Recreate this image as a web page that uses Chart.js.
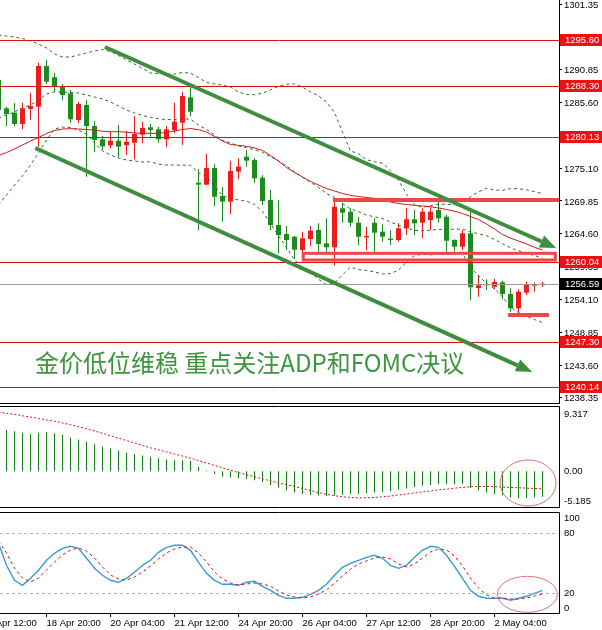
<!DOCTYPE html>
<html>
<head>
<meta charset="utf-8">
<script src="https://cdn.jsdelivr.net/npm/chart.js@4.4.1/dist/chart.umd.min.js"></script>
<style>
html,body{margin:0;padding:0;background:#fff;}
#wrap{position:relative;width:602px;height:630px;overflow:hidden;background:#fff;}
canvas{position:absolute;left:0;}
</style>
</head>
<body>
<div id="wrap">
<canvas id="cMain" width="602" height="404" style="top:0px"></canvas>
<canvas id="cMacd" width="602" height="104" style="top:404px"></canvas>
<canvas id="cStoch" width="602" height="122" style="top:508px"></canvas>
</div>
<script>
// ---- XAUUSD H4 bars (first bar sits one step left of the origin) ----
const firstBar = -1;
const barOpen = [1289.20,1284.67,1283.97,1282.16,1284.56,1284.93,1291.44,1289.63,1288.24,1287.07,1282.80,1285.20,1281.84,1279.71,1278.75,1279.49,1278.75,1279.17,1280.45,1281.63,1281.31,1279.71,1281.20,1282.37,1286.43,1272.77,1272.45,1275.12,1270.64,1269.73,1274.53,1276.93,1276.40,1273.57,1270.00,1266.00,1264.56,1264.13,1262.00,1263.76,1265.20,1263.07,1262.43,1268.67,1268.13,1266.37,1264.03,1266.37,1264.93,1263.81,1263.60,1265.47,1266.91,1266.37,1266.80,1268.40,1267.33,1263.60,1262.53,1264.67,1255.92,1256.56,1256.13,1256.83,1254.96,1252.67,1255.17,1256.30,1256.45];
const barHigh = [1289.68,1284.93,1285.52,1285.57,1287.17,1291.97,1292.40,1290.32,1288.56,1287.60,1285.68,1286.00,1282.64,1280.24,1280.93,1282.00,1281.09,1283.44,1282.53,1282.16,1281.73,1281.84,1285.57,1287.33,1288.40,1274.91,1277.36,1275.76,1272.13,1276.29,1276.67,1278.00,1276.72,1274.00,1271.60,1270.00,1265.84,1264.24,1264.93,1265.84,1266.27,1267.07,1270.16,1269.57,1268.67,1267.33,1265.73,1267.07,1266.11,1265.15,1266.27,1268.67,1268.40,1268.67,1268.93,1270.00,1267.60,1263.71,1265.20,1268.40,1258.00,1257.31,1257.41,1257.09,1255.87,1255.71,1256.93,1256.80,1256.90];
const barLow = [1283.76,1281.84,1281.84,1281.31,1282.80,1278.53,1288.56,1287.33,1286.00,1282.37,1282.32,1273.73,1277.73,1278.00,1278.27,1276.83,1277.20,1276.51,1279.07,1280.13,1279.17,1278.43,1280.67,1278.80,1283.44,1265.20,1272.40,1269.04,1266.53,1267.76,1273.31,1275.33,1272.77,1269.20,1265.20,1261.47,1262.00,1260.56,1261.47,1262.64,1261.73,1261.73,1259.52,1266.37,1265.73,1262.80,1261.92,1261.60,1263.33,1262.80,1263.33,1264.40,1264.40,1263.87,1265.20,1266.37,1261.73,1261.73,1262.00,1254.00,1254.53,1255.60,1255.71,1254.11,1252.13,1251.92,1254.80,1255.33,1256.10];
const barClose = [1284.40,1283.76,1282.16,1284.67,1285.04,1291.44,1288.93,1288.24,1286.80,1282.91,1285.36,1281.84,1279.60,1278.59,1279.49,1278.53,1279.33,1280.56,1281.52,1281.20,1279.71,1281.31,1282.53,1286.64,1284.13,1272.45,1275.12,1270.53,1269.73,1274.64,1275.33,1276.29,1273.47,1269.84,1266.00,1264.40,1263.60,1262.05,1263.87,1265.09,1262.96,1262.43,1268.93,1267.97,1266.37,1264.13,1264.24,1264.77,1264.13,1263.60,1265.47,1266.91,1266.27,1268.13,1268.13,1267.07,1263.49,1262.53,1264.67,1256.03,1256.35,1256.35,1256.88,1254.96,1252.67,1255.33,1256.56,1256.45,1256.59];

// ---- Bollinger bands (dashed) and moving average (red) ----
const bandUpper = [1296.40,1296.24,1296.08,1295.84,1295.44,1294.96,1294.32,1293.36,1292.88,1292.88,1293.20,1293.52,1293.84,1294.08,1293.76,1293.12,1292.40,1291.76,1291.04,1290.33,1290.22,1290.13,1290.15,1290.39,1290.30,1289.61,1288.78,1288.56,1288.39,1288.09,1287.26,1286.90,1286.84,1287.09,1287.63,1288.21,1288.52,1288.59,1288.06,1287.28,1286.69,1285.66,1284.01,1280.87,1277.83,1277.43,1276.44,1276.14,1275.89,1274.72,1273.16,1270.95,1269.21,1268.80,1269.11,1269.32,1269.31,1269.26,1269.26,1270.55,1271.31,1271.87,1271.58,1271.54,1271.82,1271.81,1271.63,1271.33,1271.03];
const bandMiddle = [1283.12,1283.60,1284.08,1284.72,1285.20,1286.00,1286.96,1287.28,1287.28,1287.20,1287.12,1286.80,1286.48,1286.16,1285.68,1285.04,1284.40,1283.92,1283.52,1283.22,1282.98,1282.86,1282.88,1282.98,1282.93,1281.98,1281.29,1280.41,1279.55,1279.14,1278.64,1278.36,1278.06,1277.62,1276.94,1276.24,1275.45,1274.52,1273.64,1272.84,1272.00,1271.06,1270.38,1269.44,1268.55,1268.14,1267.59,1267.31,1267.03,1266.47,1265.98,1265.51,1265.15,1265.07,1265.17,1265.31,1265.30,1265.32,1265.36,1264.91,1264.58,1264.28,1263.67,1263.02,1262.34,1261.90,1261.52,1261.10,1260.72];
const bandLower = [1269.20,1270.80,1272.40,1273.84,1275.60,1277.52,1279.60,1281.36,1281.68,1281.60,1281.20,1280.56,1279.12,1277.84,1277.20,1276.72,1276.40,1276.24,1276.08,1276.11,1275.74,1275.59,1275.61,1275.57,1275.56,1274.35,1273.80,1272.26,1270.71,1270.19,1270.02,1269.82,1269.28,1268.15,1266.25,1264.27,1262.38,1260.45,1259.22,1258.40,1257.31,1256.46,1256.75,1258.01,1259.27,1258.85,1258.74,1258.48,1258.17,1258.22,1258.80,1260.07,1261.09,1261.34,1261.23,1261.30,1261.29,1261.38,1261.46,1259.27,1257.85,1256.69,1255.76,1254.50,1252.86,1251.99,1251.41,1250.87,1250.41];
const maLine = [1277.12,1277.60,1278.16,1278.80,1279.44,1280.00,1280.64,1281.12,1281.36,1281.41,1281.36,1281.28,1281.17,1281.01,1280.93,1280.93,1280.85,1280.72,1280.67,1280.67,1280.67,1280.83,1281.04,1281.28,1281.44,1281.25,1280.88,1280.16,1279.44,1278.88,1278.75,1278.59,1278.35,1277.92,1277.12,1276.24,1275.20,1274.40,1273.68,1272.96,1272.40,1271.84,1271.44,1271.04,1270.75,1270.56,1270.40,1270.27,1270.08,1269.68,1269.44,1269.28,1269.15,1269.04,1268.93,1268.72,1268.48,1268.21,1267.84,1267.36,1266.88,1266.16,1265.36,1264.48,1263.92,1263.44,1262.96,1262.43,1262.00];

// ---- MACD histogram and signal ----
const macdHist = [6.2,6.0,5.8,5.6,5.4,5.6,5.7,5.5,5.3,4.9,4.6,4.3,3.9,3.6,3.3,3.0,2.7,2.5,2.3,2.1,1.9,1.7,1.6,1.6,1.5,0.6,0.1,-0.4,-0.8,-0.9,-1.0,-1.1,-1.3,-1.6,-2.0,-2.4,-2.8,-3.1,-3.3,-3.4,-3.5,-3.6,-3.5,-3.4,-3.3,-3.3,-3.2,-3.1,-3.0,-2.9,-2.7,-2.5,-2.3,-2.1,-2.0,-1.9,-1.9,-1.9,-1.8,-2.4,-2.8,-3.1,-3.3,-3.5,-3.8,-3.9,-3.9,-3.8,-3.7];
const macdSignal = [8.55,8.40,8.25,8.05,7.85,7.65,7.45,7.25,7.00,6.75,6.45,6.15,5.85,5.50,5.15,4.80,4.45,4.10,3.75,3.40,3.10,2.80,2.50,2.20,1.90,1.55,1.20,0.85,0.50,0.15,-0.20,-0.50,-0.80,-1.10,-1.40,-1.70,-1.95,-2.20,-2.50,-2.80,-3.10,-3.35,-3.55,-3.70,-3.80,-3.85,-3.85,-3.80,-3.70,-3.60,-3.45,-3.30,-3.15,-3.00,-2.85,-2.70,-2.60,-2.45,-2.35,-2.25,-2.20,-2.20,-2.25,-2.30,-2.35,-2.40,-2.45,-2.50,-2.55];
const macdMax = 9.317, macdMin = -5.185;

// ---- Stochastic %K and %D ----
const stochK = [69.7,47.7,32.7,27.7,34.7,42.7,52.7,59.7,64.7,66.7,64.7,54.7,44.7,37.7,32.7,30.7,34.7,40.7,47.7,52.7,60.7,65.7,67.7,67.7,62.7,50.7,39.7,32.7,28.7,28.7,27.7,30.7,31.7,26.7,22.7,17.7,14.7,14.7,15.7,18.7,22.7,28.7,37.7,45.7,49.7,52.7,55.7,57.7,54.7,47.7,44.7,47.7,55.7,62.7,66.7,65.7,57.7,46.7,34.7,22.7,16.7,14.7,14.7,14.7,12.7,14.7,16.7,19.7,22.7];
const stochD = [72,60,45,35,31,35,43,51,58,63,65,62,55,46,38,34,33,36,41,47,54,60,64,66,66,60,51,41,34,30,28,29,30,29,27,22,18,16,15,16,19,23,30,37,44,49,52,55,56,54,49,46,49,55,61,64,63,57,47,35,25,18,15,15,14,14,15,17,19];
const stochLevels = [80, 20];

// ---- axis ticks ----
const priceTicks = [1301.35,1296.10,1290.85,1285.60,1280.35,1275.10,1269.85,1264.60,1259.35,1254.10,1248.85,1243.60,1238.35];
const timeTickBars = [-3,5,13,21,29,37,45,53,61];
const timeTickLabels = ['17 Apr 12:00','18 Apr 20:00','20 Apr 04:00','21 Apr 12:00','24 Apr 20:00','26 Apr 04:00','27 Apr 12:00','28 Apr 20:00','2 May 04:00'];

// ---- drawn levels and objects (bar position, price) ----
const levelPrices = [1295.60,1288.30,1280.13,1260.04,1247.30,1240.14];
const lastPrice = 1256.59;
const resistanceBar = [[40.8,1270.00],[69.5,1270.00]];
const zoneBox = [[37.1,1261.47],[68.6,1260.40]];
const supportBar = [[62.7,1251.60],[67.8,1251.60]];
const channelUpper = [[12.3,1294.48],[68.7,1262.32]];
const channelLower = [[3.6,1278.32],[65.7,1242.48]];
const headline = {text:'金价低位维稳 重点关注ADP和FOMC决议', at:[3.56,1243.92]};
const macdRing = {center:[65.2,-1.70], rx:3.5, ry:3.34};
const stochRing = {center:[65.1,18.7], rx:3.75, ry:18};

// ---- styles ----
const FONT = '"Liberation Sans", Arial, sans-serif';
const UP = '#ee1c1c', DOWN = '#1d8b1d';
const AXIS_W = 43;
const X_MIN = -0.8125, X_MAX = 69.0625;

const barPos = barOpen.map((_, i) => i + firstBar);
const barColors = barOpen.map((o, i) => barClose[i] >= o ? UP : DOWN);
const pts = arr => arr.map((v, i) => ({x: barPos[i], y: v}));

const common = {
  responsive: false, animation: false, devicePixelRatio: 1,
  plugins: {legend: {display: false}, tooltip: {enabled: false}},
  events: []
};

function xScale(display) {
  return {type: 'linear', min: X_MIN, max: X_MAX, offset: false, display: display};
}

function crisp(v) { return Math.round(v) + 0.5; }

// price-level lines, tags, zone objects, trend channel and headline
const mainObjects = {
  id: 'mainObjects',
  afterDatasetsDraw(chart) {
    const {ctx, chartArea: a, scales: {x, y}} = chart;
    ctx.save();
    ctx.beginPath(); ctx.rect(a.left, a.top, a.right - a.left, a.bottom - a.top); ctx.clip();
    // thin horizontal levels
    ctx.lineWidth = 1;
    levelPrices.forEach(p => {
      const py = crisp(y.getPixelForValue(p));
      ctx.strokeStyle = '#d81010';
      ctx.beginPath(); ctx.moveTo(a.left, py); ctx.lineTo(a.right, py); ctx.stroke();
    });
    const lp = crisp(y.getPixelForValue(lastPrice));
    ctx.strokeStyle = '#9a9a9a';
    ctx.beginPath(); ctx.moveTo(a.left, lp); ctx.lineTo(a.right, lp); ctx.stroke();
    // thick resistance / support bars
    ctx.strokeStyle = '#f04646';
    ctx.lineWidth = 4;
    [resistanceBar, supportBar].forEach(seg => {
      ctx.beginPath();
      ctx.moveTo(x.getPixelForValue(seg[0][0]), y.getPixelForValue(seg[0][1]));
      ctx.lineTo(x.getPixelForValue(seg[1][0]), y.getPixelForValue(seg[1][1]));
      ctx.stroke();
    });
    // hollow zone box
    ctx.lineWidth = 3;
    const bx0 = x.getPixelForValue(zoneBox[0][0]), by0 = y.getPixelForValue(zoneBox[0][1]);
    const bx1 = x.getPixelForValue(zoneBox[1][0]), by1 = y.getPixelForValue(zoneBox[1][1]);
    ctx.strokeRect(bx0, by0, bx1 - bx0, by1 - by0);
    // trend channel with arrows
    [channelUpper, channelLower].forEach(seg => {
      const x0 = x.getPixelForValue(seg[0][0]), y0 = y.getPixelForValue(seg[0][1]);
      const x1 = x.getPixelForValue(seg[1][0]), y1 = y.getPixelForValue(seg[1][1]);
      const ang = Math.atan2(y1 - y0, x1 - x0);
      const hl = 16, hw = 13;
      const bx = x1 - hl * Math.cos(ang), by = y1 - hl * Math.sin(ang);
      ctx.strokeStyle = '#3e8e3e'; ctx.fillStyle = '#3e8e3e'; ctx.lineWidth = 4;
      ctx.beginPath(); ctx.moveTo(x0, y0); ctx.lineTo(bx, by); ctx.stroke();
      ctx.beginPath(); ctx.moveTo(x1, y1);
      ctx.lineTo(bx + hw / 2 * Math.sin(ang), by - hw / 2 * Math.cos(ang));
      ctx.lineTo(bx - hw / 2 * Math.sin(ang), by + hw / 2 * Math.cos(ang));
      ctx.closePath(); ctx.fill();
    });
    // headline
    ctx.fillStyle = '#3d953d';
    ctx.font = '24px "Noto Sans CJK SC", sans-serif';
    ctx.textBaseline = 'middle';
    ctx.fillText(headline.text, x.getPixelForValue(headline.at[0]), y.getPixelForValue(headline.at[1]));
    ctx.restore();
    // bottom border of the price window
    ctx.save();
    ctx.strokeStyle = '#000'; ctx.lineWidth = 1;
    ctx.beginPath(); ctx.moveTo(0, a.bottom + 0.5); ctx.lineTo(a.right + 1, a.bottom + 0.5); ctx.stroke();
    ctx.restore();
  },
  afterDraw(chart) {
    const {ctx, chartArea: a, scales: {y}} = chart;
    ctx.save();
    ctx.font = '9.5px ' + FONT;
    ctx.textBaseline = 'middle';
    const tag = (p, bg) => {
      const py = Math.round(y.getPixelForValue(p));
      ctx.fillStyle = bg;
      ctx.fillRect(a.right + 1, py - 6, 602 - a.right, 12);
      ctx.fillStyle = '#fff';
      ctx.fillText(p.toFixed(2), a.right + 6, py + 0.5);
    };
    levelPrices.forEach(p => tag(p, '#ee1111'));
    tag(lastPrice, '#000');
    ctx.restore();
  }
};

new Chart(document.getElementById('cMain'), {
  type: 'bar',
  data: {
    datasets: [
      {type: 'bar', data: barPos.map((x, i) => ({x, y: [barLow[i], barHigh[i]]})), backgroundColor: barColors,
       barThickness: 1, grouped: false, inflateAmount: 0, order: 6},
      {type: 'bar', data: barPos.map((x, i) => ({x, y: [barOpen[i], barClose[i]]})), backgroundColor: barColors,
       barThickness: 5, grouped: false, inflateAmount: 0, minBarLength: 1, order: 5},
      {type: 'line', data: pts(bandUpper), borderColor: '#2e6e2e', borderWidth: 1, borderDash: [3, 3], pointRadius: 0, order: 2},
      {type: 'line', data: pts(bandMiddle), borderColor: '#2e6e2e', borderWidth: 1, borderDash: [3, 3], pointRadius: 0, order: 2},
      {type: 'line', data: pts(bandLower), borderColor: '#2e6e2e', borderWidth: 1, borderDash: [3, 3], pointRadius: 0, order: 2},
      {type: 'line', data: pts(maLine), borderColor: '#d01818', borderWidth: 1, pointRadius: 0, order: 1}
    ]
  },
  options: Object.assign({}, common, {
    layout: {padding: {top: 0, bottom: 1, left: 0, right: 0}},
    scales: {
      x: xScale(false),
      y: {
        position: 'right', min: 1237.52, max: 1302.00,
        afterFit: s => { s.width = AXIS_W; s.paddingTop = 0; s.paddingBottom = 0; },
        afterBuildTicks: s => { s.ticks = priceTicks.map(v => ({value: v})); },
        ticks: {autoSkip: false, color: '#000', font: {family: FONT, size: 9.5}, padding: 2, labelOffset: 1,
                callback: v => Number(v).toFixed(2)},
        grid: {drawOnChartArea: false, drawTicks: true, tickLength: 3, color: '#000'},
        border: {display: true, color: '#000', width: 1}
      }
    }
  }),
  plugins: [mainObjects]
});

// sub-window frame, right-side value labels and oval marks
function subWindow(labels, ring, levels) {
  return {
    id: 'subWindow',
    beforeDatasetsDraw(chart) {
      const {ctx, chartArea: a, scales: {y}} = chart;
      if (!levels) return;
      ctx.save();
      ctx.strokeStyle = '#b4b4b4'; ctx.lineWidth = 1; ctx.setLineDash([3, 3]);
      levels.forEach(v => {
        const py = crisp(y.getPixelForValue(v));
        ctx.beginPath(); ctx.moveTo(a.left, py); ctx.lineTo(a.right, py); ctx.stroke();
      });
      ctx.restore();
    },
    afterDraw(chart) {
      const {ctx, chartArea: a, scales: {x, y}} = chart;
      ctx.save();
      ctx.strokeStyle = '#000'; ctx.lineWidth = 1;
      ctx.beginPath();
      ctx.moveTo(0, a.top - 0.5); ctx.lineTo(a.right + 0.5, a.top - 0.5);
      ctx.lineTo(a.right + 0.5, a.bottom + 0.5); ctx.lineTo(0, a.bottom + 0.5);
      ctx.stroke();
      ctx.fillStyle = '#000';
      ctx.font = '9.5px ' + FONT;
      ctx.textBaseline = 'middle';
      labels.forEach(l => ctx.fillText(l.text, a.right + 5, y.getPixelForValue(l.value) + l.shift));
      if (ring) {
        const cx = x.getPixelForValue(ring.center[0]), cy = y.getPixelForValue(ring.center[1]);
        const rx = x.getPixelForValue(ring.center[0] + ring.rx) - cx;
        const ry = cy - y.getPixelForValue(ring.center[1] + ring.ry);
        ctx.beginPath(); ctx.rect(a.left, a.top, a.right - a.left + 1, a.bottom - a.top); ctx.clip();
        ctx.strokeStyle = '#e2707e'; ctx.lineWidth = 1;
        ctx.beginPath(); ctx.ellipse(cx, cy, rx, ry, 0, 0, Math.PI * 2); ctx.stroke();
      }
      ctx.restore();
    }
  };
}

new Chart(document.getElementById('cMacd'), {
  type: 'bar',
  data: {
    datasets: [
      {type: 'bar', data: pts(macdHist), backgroundColor: '#0f800f', barThickness: 1, grouped: false, inflateAmount: 0, order: 2},
      {type: 'line', data: pts(macdSignal), borderColor: '#e01010', borderWidth: 1, borderDash: [2, 2], pointRadius: 0, order: 1}
    ]
  },
  options: Object.assign({}, common, {
    layout: {padding: {top: 3, bottom: 1, left: 0, right: AXIS_W}},
    scales: {
      x: xScale(false),
      y: {display: false, min: macdMin, max: macdMax}
    }
  }),
  plugins: [subWindow([
    {text: macdMax.toFixed(3), value: macdMax, shift: 7},
    {text: '0.00', value: 0, shift: 0},
    {text: macdMin.toFixed(3), value: macdMin, shift: -6}
  ], macdRing, null)]
});

new Chart(document.getElementById('cStoch'), {
  type: 'line',
  data: {
    datasets: [
      {data: pts(stochK), borderColor: '#3a9ad9', borderWidth: 1.4, pointRadius: 0, order: 2},
      {data: pts(stochD), borderColor: '#e01010', borderWidth: 1, borderDash: [3, 3], pointRadius: 0, order: 1}
    ]
  },
  options: Object.assign({}, common, {
    layout: {padding: {top: 5, bottom: 0, left: 0, right: AXIS_W}},
    scales: {
      x: {
        type: 'linear', min: X_MIN, max: X_MAX, offset: false, position: 'bottom',
        afterBuildTicks: s => { s.ticks = timeTickBars.map(v => ({value: v})); },
        afterFit: s => { s.height = 17; s.paddingLeft = 0; s.paddingRight = 0; },
        ticks: {autoSkip: false, maxRotation: 0, minRotation: 0, align: 'start', padding: 1,
                color: '#000', font: {family: FONT, size: 9.5},
                callback: (v) => timeTickLabels[timeTickBars.indexOf(v)]},
        grid: {drawOnChartArea: false, drawTicks: true, tickLength: 4, color: '#000'},
        border: {display: true, color: '#000', width: 1}
      },
      y: {display: false, min: 0, max: 100}
    }
  }),
  plugins: [subWindow([
    {text: '100', value: 100, shift: 5},
    {text: '80', value: 80, shift: 0},
    {text: '20', value: 20, shift: 0},
    {text: '0', value: 0, shift: -5}
  ], stochRing, stochLevels)]
});
</script>
</body>
</html>
